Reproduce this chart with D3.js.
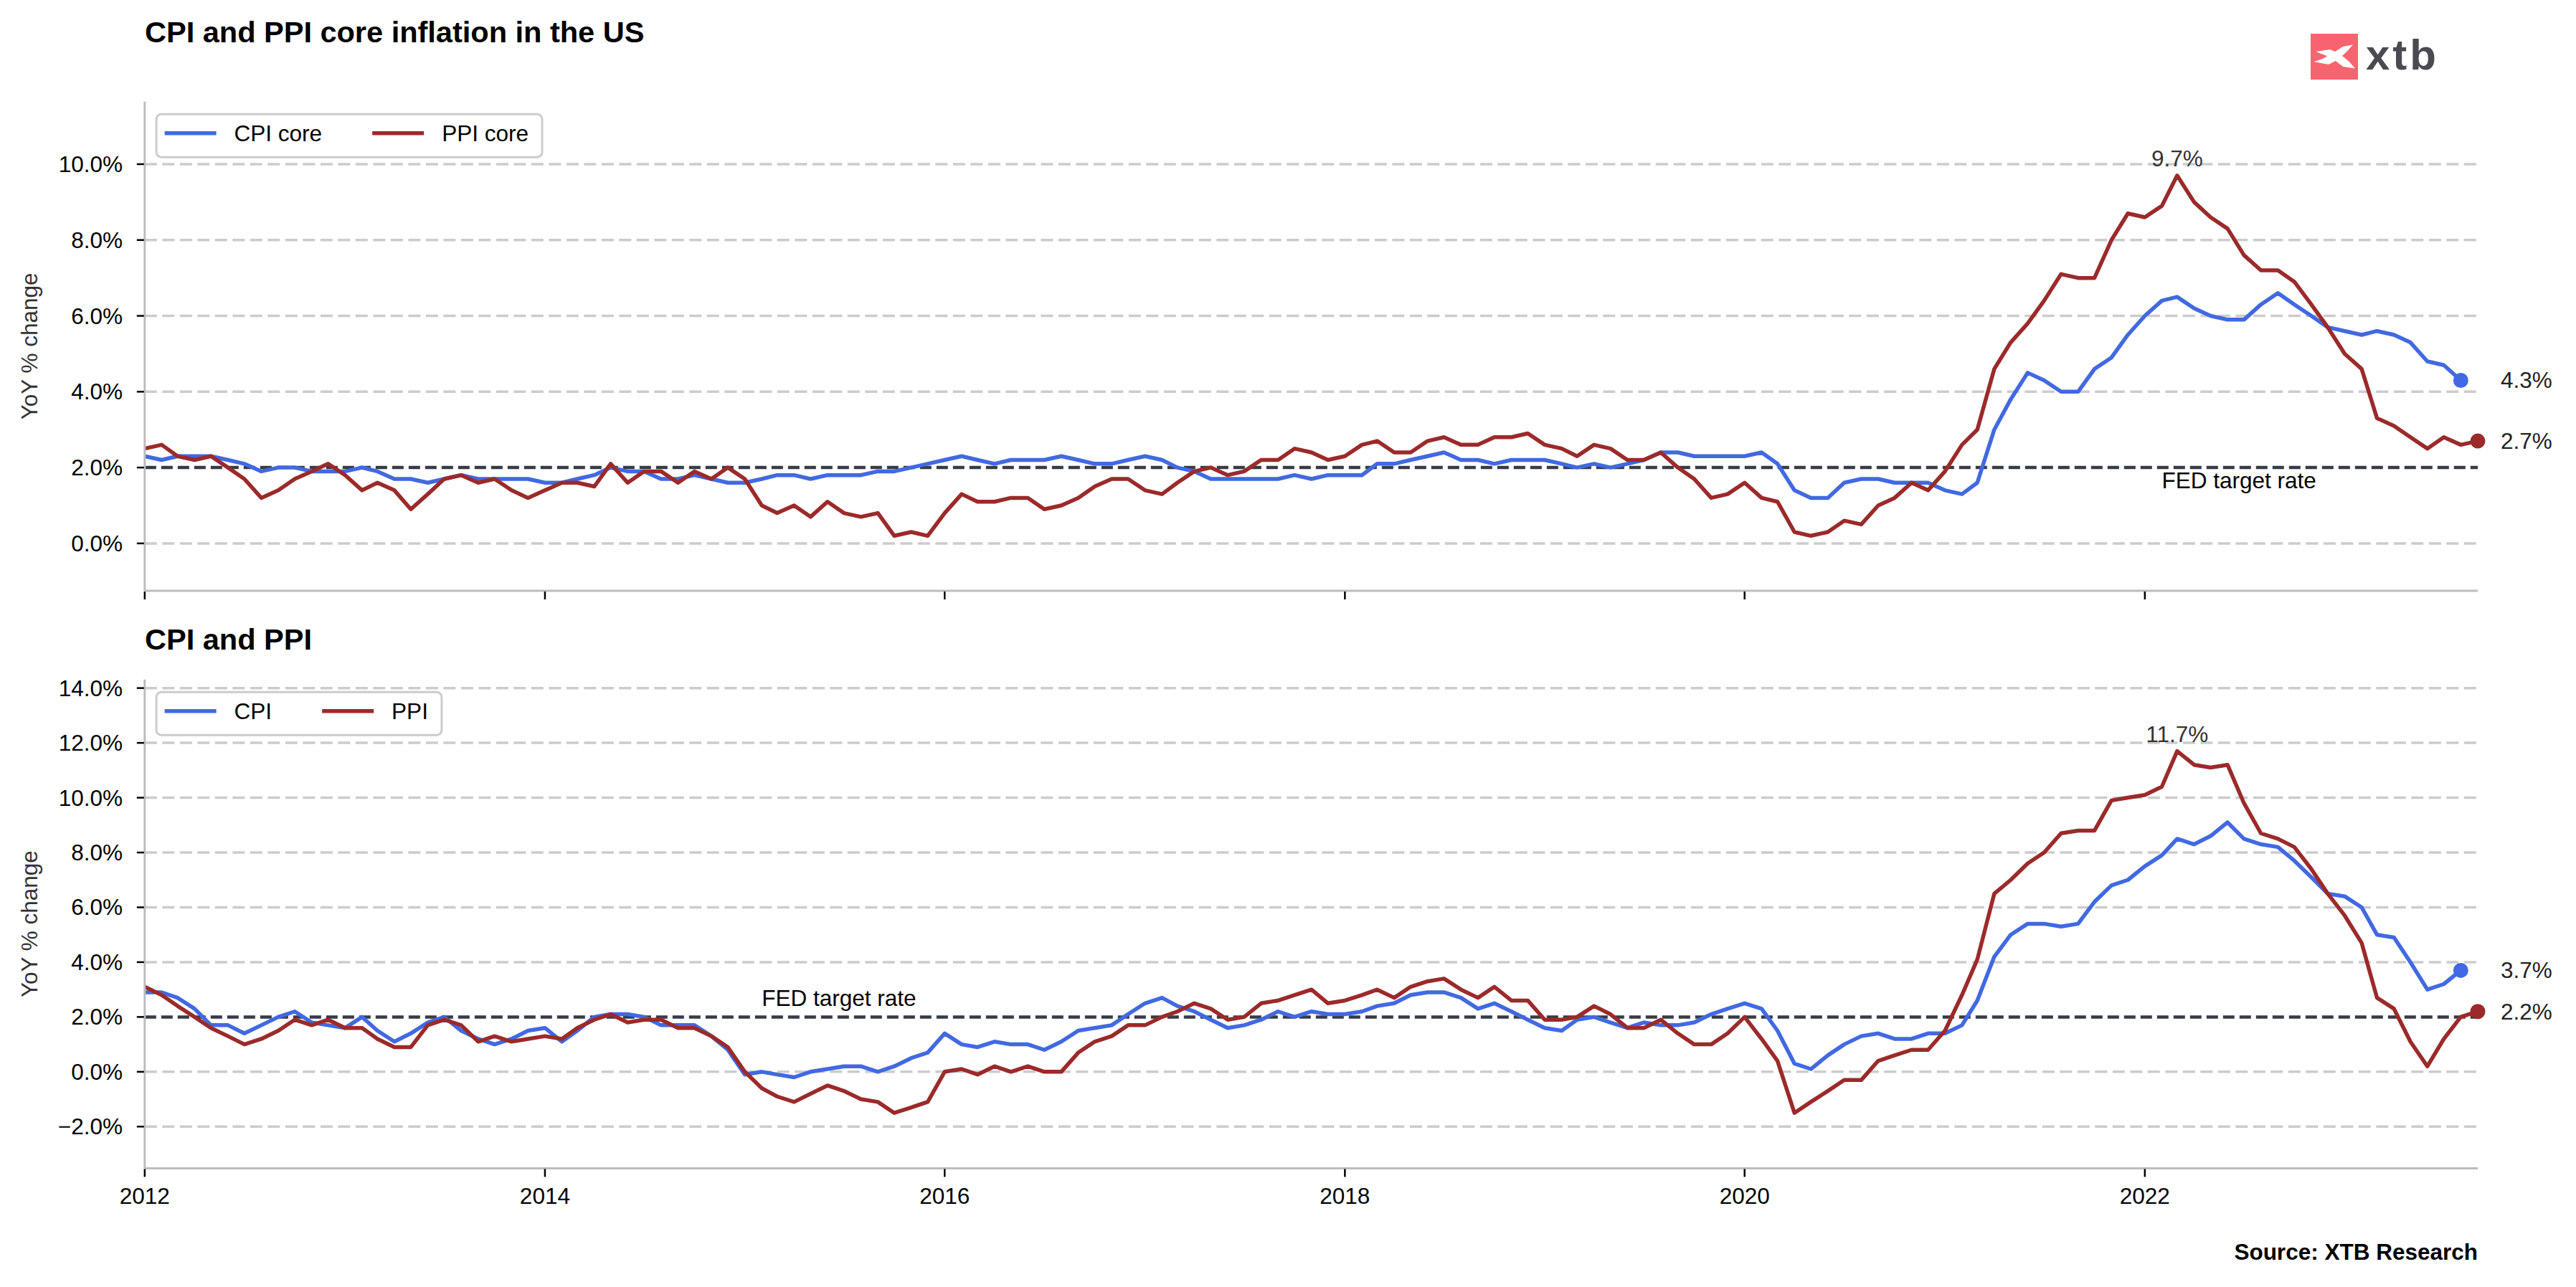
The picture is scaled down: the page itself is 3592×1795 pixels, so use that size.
<!DOCTYPE html>
<html>
<head>
<meta charset="utf-8">
<script src="https://cdn.jsdelivr.net/npm/d3@7"></script>
<style>
  body { margin: 0; background: #fff; }
  text { font-family: "Liberation Sans", Arial, Helvetica, sans-serif; }
</style>
</head>
<body>
<div id="chart"></div>
<script>
// monthly YoY % change, first value = Jan 2012
const cpiCore = [
  2.3,2.2,2.3,2.3,2.3,2.2,2.1,1.9,2.0,2.0,1.9,1.9,
  1.9,2.0,1.9,1.7,1.7,1.6,1.7,1.8,1.7,1.7,1.7,1.7,
  1.6,1.6,1.7,1.8,2.0,1.9,1.9,1.7,1.7,1.8,1.7,1.6,
  1.6,1.7,1.8,1.8,1.7,1.8,1.8,1.8,1.9,1.9,2.0,2.1,
  2.2,2.3,2.2,2.1,2.2,2.2,2.2,2.3,2.2,2.1,2.1,2.2,
  2.3,2.2,2.0,1.9,1.7,1.7,1.7,1.7,1.7,1.8,1.7,1.8,
  1.8,1.8,2.1,2.1,2.2,2.3,2.4,2.2,2.2,2.1,2.2,2.2,
  2.2,2.1,2.0,2.1,2.0,2.1,2.2,2.4,2.4,2.3,2.3,2.3,
  2.3,2.4,2.1,1.4,1.2,1.2,1.6,1.7,1.7,1.6,1.6,1.6,
  1.4,1.3,1.6,3.0,3.8,4.5,4.3,4.0,4.0,4.6,4.9,5.5,
  6.0,6.4,6.5,6.2,6.0,5.9,5.9,6.3,6.6,6.3,6.0,5.7,
  5.6,5.5,5.6,5.5,5.3,4.8,4.7,4.3
];
const ppiCore = [
  2.5,2.6,2.3,2.2,2.3,2.0,1.7,1.2,1.4,1.7,1.9,2.1,
  1.8,1.4,1.6,1.4,0.9,1.3,1.7,1.8,1.6,1.7,1.4,1.2,
  1.4,1.6,1.6,1.5,2.1,1.6,1.9,1.9,1.6,1.9,1.7,2.0,
  1.7,1.0,0.8,1.0,0.7,1.1,0.8,0.7,0.8,0.2,0.3,0.2,
  0.8,1.3,1.1,1.1,1.2,1.2,0.9,1.0,1.2,1.5,1.7,1.7,
  1.4,1.3,1.6,1.9,2.0,1.8,1.9,2.2,2.2,2.5,2.4,2.2,
  2.3,2.6,2.7,2.4,2.4,2.7,2.8,2.6,2.6,2.8,2.8,2.9,
  2.6,2.5,2.3,2.6,2.5,2.2,2.2,2.4,2.0,1.7,1.2,1.3,
  1.6,1.2,1.1,0.3,0.2,0.3,0.6,0.5,1.0,1.2,1.6,1.4,
  1.9,2.6,3.0,4.6,5.3,5.8,6.4,7.1,7.0,7.0,8.0,8.7,
  8.6,8.9,9.7,9.0,8.6,8.3,7.6,7.2,7.2,6.9,6.3,5.7,
  5.0,4.6,3.3,3.1,2.8,2.5,2.8,2.6,2.7
];
const cpi = [
  2.9,2.9,2.7,2.3,1.7,1.7,1.4,1.7,2.0,2.2,1.8,1.7,
  1.6,2.0,1.5,1.1,1.4,1.8,2.0,1.5,1.2,1.0,1.2,1.5,
  1.6,1.1,1.5,2.0,2.1,2.1,2.0,1.7,1.7,1.7,1.3,0.8,
  -0.1,0.0,-0.1,-0.2,0.0,0.1,0.2,0.2,0.0,0.2,0.5,0.7,
  1.4,1.0,0.9,1.1,1.0,1.0,0.8,1.1,1.5,1.6,1.7,2.1,
  2.5,2.7,2.4,2.2,1.9,1.6,1.7,1.9,2.2,2.0,2.2,2.1,
  2.1,2.2,2.4,2.5,2.8,2.9,2.9,2.7,2.3,2.5,2.2,1.9,
  1.6,1.5,1.9,2.0,1.8,1.6,1.8,1.7,1.7,1.8,2.1,2.3,
  2.5,2.3,1.5,0.3,0.1,0.6,1.0,1.3,1.4,1.2,1.2,1.4,
  1.4,1.7,2.6,4.2,5.0,5.4,5.4,5.3,5.4,6.2,6.8,7.0,
  7.5,7.9,8.5,8.3,8.6,9.1,8.5,8.3,8.2,7.7,7.1,6.5,
  6.4,6.0,5.0,4.9,4.0,3.0,3.2,3.7
];
const ppi = [
  3.1,2.8,2.4,2.0,1.6,1.3,1.0,1.2,1.5,1.9,1.7,1.9,
  1.6,1.6,1.2,0.9,0.9,1.7,1.9,1.7,1.1,1.3,1.1,1.2,
  1.3,1.2,1.6,1.9,2.1,1.8,1.9,1.9,1.6,1.6,1.3,0.9,
  0.0,-0.6,-0.9,-1.1,-0.8,-0.5,-0.7,-1.0,-1.1,-1.5,-1.3,-1.1,
  0.0,0.1,-0.1,0.2,0.0,0.2,0.0,0.0,0.7,1.1,1.3,1.7,
  1.7,2.0,2.2,2.5,2.3,1.9,2.0,2.5,2.6,2.8,3.0,2.5,
  2.6,2.8,3.0,2.7,3.1,3.3,3.4,3.0,2.7,3.1,2.6,2.6,
  1.9,1.9,2.0,2.4,2.1,1.6,1.6,1.9,1.4,1.0,1.0,1.4,
  2.0,1.2,0.4,-1.5,-1.1,-0.7,-0.3,-0.3,0.4,0.6,0.8,0.8,
  1.5,2.8,4.1,6.5,7.0,7.6,8.0,8.7,8.8,8.8,9.9,10.0,
  10.1,10.4,11.7,11.2,11.1,11.2,9.8,8.7,8.5,8.2,7.4,6.5,
  5.7,4.7,2.7,2.3,1.1,0.2,1.2,2.0,2.2
];
const fedTarget = 2;
const topTicks = [0, 2, 4, 6, 8, 10];
const bottomTicks = [-2, 0, 2, 4, 6, 8, 10, 12, 14];
const yearTicks = [2012, 2014, 2016, 2018, 2020, 2022];

const blue = '#4169e1';
const red = '#9b2a2a';

let dim = {width: 3592, height: 1795, left: 201.8, right: 3455};

let svg = d3.select('#chart').append('svg')
    .attr('width', dim.width)
    .attr('height', dim.height);

const month = i => new Date(Date.UTC(2012, i, 1));

let scaleX = d3.scaleUtc()
    .domain([month(0), month(140)])
    .range([dim.left, dim.right]);

const panels = [
  {
    title: 'CPI and PPI core inflation in the US', titleY: 59,
    top: 141.7, bottom: 824, domain: [-1.25, 11.65], ticks: topTicks,
    series: [{name: 'CPI core', values: cpiCore, color: blue},
             {name: 'PPI core', values: ppiCore, color: red}],
    fedAt: [121, 1.45], xLabels: false
  },
  {
    title: 'CPI and PPI', titleY: 906,
    top: 947.8, bottom: 1629.4, domain: [-3.52, 14.31], ticks: bottomTicks,
    series: [{name: 'CPI', values: cpi, color: blue},
             {name: 'PPI', values: ppi, color: red}],
    fedAt: [37, 2.4], xLabels: true
  }
];

const fmt = v => (v < 0 ? '\u2212' : '') + Math.abs(v).toFixed(1) + '%';

panels.forEach(p => {
  let scaleY = d3.scaleLinear().domain(p.domain).range([p.bottom, p.top]);
  let g = svg.append('g');

  // grid
  g.selectAll('line.grid')
    .data(p.ticks.filter(t => t !== fedTarget))
    .enter().append('line')
    .attr('x1', dim.left).attr('x2', dim.right)
    .attr('y1', d => scaleY(d)).attr('y2', d => scaleY(d))
    .attr('stroke', '#cccccc').attr('stroke-width', 3.5)
    .attr('stroke-dasharray', '17,7.5');

  // fed target
  g.append('line')
    .attr('x1', dim.left).attr('x2', dim.right)
    .attr('y1', scaleY(fedTarget)).attr('y2', scaleY(fedTarget))
    .attr('stroke', '#363b45').attr('stroke-width', 4.5)
    .attr('stroke-dasharray', '16,7');

  g.append('text')
    .attr('x', scaleX(month(p.fedAt[0])))
    .attr('y', scaleY(p.fedAt[1]))
    .attr('font-size', 31.5)
    .attr('fill', '#000')
    .text('FED target rate');

  let line = d3.line()
    .x((d, i) => scaleX(month(i)))
    .y(d => scaleY(d));

  p.series.forEach(s => {
    g.append('path')
      .attr('d', line(s.values))
      .attr('fill', 'none')
      .attr('stroke', s.color)
      .attr('stroke-width', 5.5)
      .attr('stroke-linejoin', 'round');

    let last = s.values.length - 1;
    g.append('circle')
      .attr('cx', scaleX(month(last)))
      .attr('cy', scaleY(s.values[last]))
      .attr('r', 10.5)
      .attr('fill', s.color);

    g.append('text')
      .attr('x', 3487)
      .attr('y', scaleY(s.values[last]))
      .attr('dominant-baseline', 'central')
      .attr('font-size', 31.5)
      .attr('fill', '#222')
      .text(s.values[last].toFixed(1) + '%');
  });

  // peak label on the PPI series
  let ppiVals = p.series[1].values;
  let peak = d3.maxIndex(ppiVals);
  g.append('text')
    .attr('x', scaleX(month(peak)))
    .attr('y', scaleY(ppiVals[peak]) - 13)
    .attr('text-anchor', 'middle')
    .attr('font-size', 31.5)
    .attr('fill', '#333')
    .text(ppiVals[peak].toFixed(1) + '%');

  // spines
  g.append('line')
    .attr('x1', dim.left).attr('x2', dim.left)
    .attr('y1', p.top).attr('y2', p.bottom)
    .attr('stroke', '#bdbdbd').attr('stroke-width', 3);
  g.append('line')
    .attr('x1', dim.left).attr('x2', dim.right)
    .attr('y1', p.bottom).attr('y2', p.bottom)
    .attr('stroke', '#bdbdbd').attr('stroke-width', 3);

  // y ticks
  g.selectAll('line.yt')
    .data(p.ticks).enter().append('line')
    .attr('x1', dim.left - 11).attr('x2', dim.left - 1)
    .attr('y1', d => scaleY(d)).attr('y2', d => scaleY(d))
    .attr('stroke', '#000').attr('stroke-width', 2.5);
  g.selectAll('text.yt')
    .data(p.ticks).enter().append('text')
    .attr('x', 171)
    .attr('y', d => scaleY(d))
    .attr('text-anchor', 'end')
    .attr('dominant-baseline', 'central')
    .attr('font-size', 31.5)
    .text(fmt);

  // x ticks
  g.selectAll('line.xt')
    .data(yearTicks).enter().append('line')
    .attr('x1', d => scaleX(new Date(Date.UTC(d, 0, 1))))
    .attr('x2', d => scaleX(new Date(Date.UTC(d, 0, 1))))
    .attr('y1', p.bottom + 1).attr('y2', p.bottom + 12)
    .attr('stroke', '#000').attr('stroke-width', 2.5);
  if (p.xLabels) {
    g.selectAll('text.xt')
      .data(yearTicks).enter().append('text')
      .attr('x', d => scaleX(new Date(Date.UTC(d, 0, 1))))
      .attr('y', p.bottom + 50)
      .attr('text-anchor', 'middle')
      .attr('font-size', 31.5)
      .text(d => d);
  }

  // y label
  g.append('text')
    .attr('transform', `translate(41,${(p.top + p.bottom) / 2}) rotate(-90)`)
    .attr('text-anchor', 'middle')
    .attr('dominant-baseline', 'central')
    .attr('font-size', 31.5)
    .attr('fill', '#333')
    .text('YoY % change');

  // title
  svg.append('text')
    .attr('x', 202).attr('y', p.titleY)
    .attr('font-size', 41.5).attr('font-weight', 'bold')
    .text(p.title);

  // legend
  let lg = g.append('g');
  let box = lg.append('rect')
    .attr('x', 218).attr('y', p.top + 17.5)
    .attr('height', 60).attr('rx', 7)
    .attr('fill', 'rgba(255,255,255,0.85)')
    .attr('stroke', '#cccccc').attr('stroke-width', 3);
  let cx = 229.6;
  let cy = p.top + 44;
  p.series.forEach(s => {
    lg.append('line')
      .attr('x1', cx).attr('x2', cx + 72)
      .attr('y1', cy).attr('y2', cy)
      .attr('stroke', s.color).attr('stroke-width', 5.5);
    let t = lg.append('text')
      .attr('x', cx + 97).attr('y', cy)
      .attr('dominant-baseline', 'central')
      .attr('font-size', 31.5)
      .text(s.name);
    cx = cx + 97 + t.node().getComputedTextLength() + 70;
  });
  box.attr('width', cx - 70 + 19 - 218);
});

// source
svg.append('text')
  .attr('x', dim.right).attr('y', 1757)
  .attr('text-anchor', 'end')
  .attr('font-size', 31.5).attr('font-weight', 'bold')
  .text('Source: XTB Research');

// logo
let logo = svg.append('g').attr('transform', 'translate(3222,47)');
logo.append('rect').attr('width', 66).attr('height', 64).attr('fill', '#f7646f');
logo.append('polygon')
  .attr('points', '7.5,25 27,22 34,25 45,18 59,15.3 51.7,23.5 44,31 53.5,38.8 62,48.5 45.3,46 34.7,38 25,43 4.5,39 16.6,35 23.4,31.3 14,27.7')
  .attr('fill', '#fff');
svg.append('text')
  .attr('x', 3299).attr('y', 97)
  .attr('font-size', 60).attr('font-weight', 'bold')
  .attr('letter-spacing', 4)
  .attr('fill', '#4a4a50')
  .text('xtb');
</script>
</body>
</html>
